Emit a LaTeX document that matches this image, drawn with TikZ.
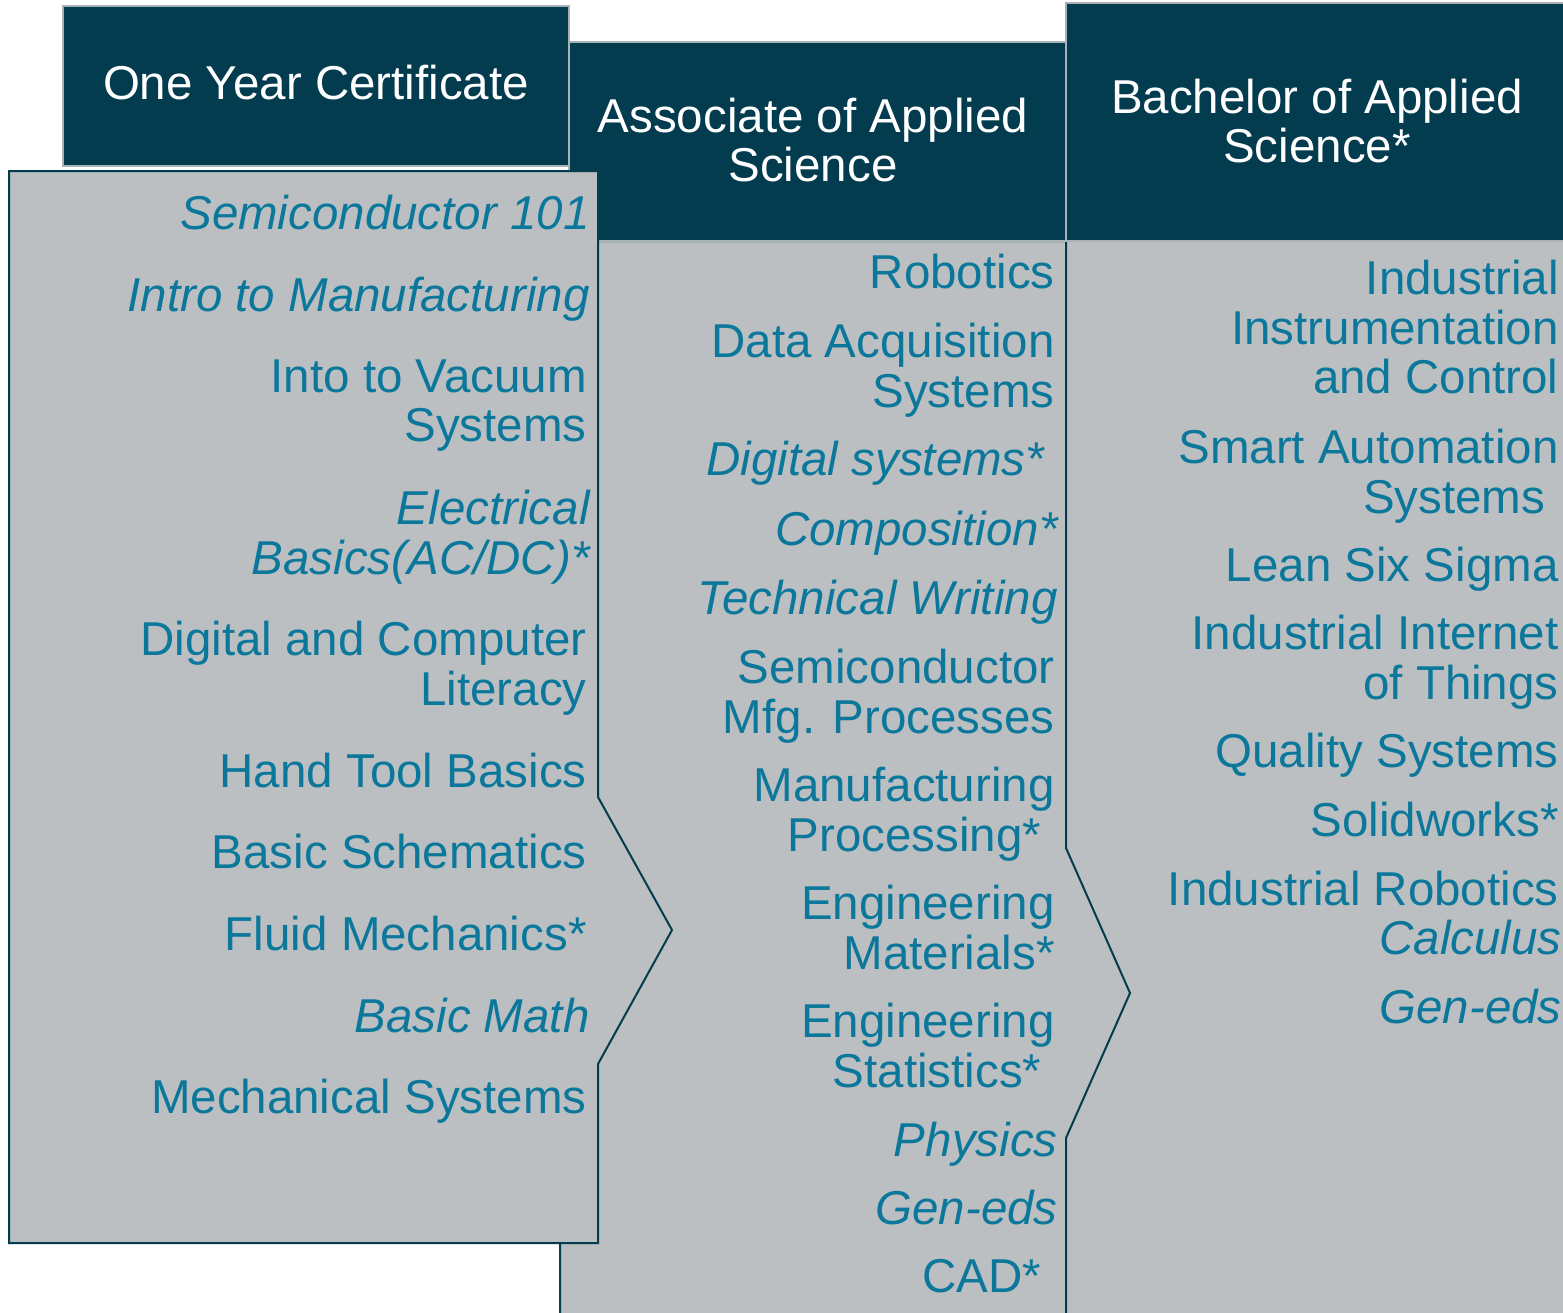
\documentclass[tikz,border=0pt]{standalone}
\usepackage{fontspec}
\setmainfont{Liberation Sans}
\definecolor{hdrblue}{HTML}{033B4F}
\definecolor{panelgray}{HTML}{BBBFC2}
\definecolor{itemblue}{HTML}{0B789B}
\definecolor{hdrline}{HTML}{A9B2B6}
\begin{document}
\begin{tikzpicture}[x=0.5pt,y=-0.5pt,
  hdrbox/.style={draw=hdrline,line width=1.2pt,fill=hdrblue},
  panel/.style={draw=hdrblue,line width=1pt,fill=panelgray,line join=miter},
  hdrtext/.style={text=white,align=center,inner sep=0pt,font=\fontsize{23.75}{24.75}\selectfont},
  itm/.style={anchor=north east,text=itemblue,align=right,inner sep=0pt,font=\fontsize{23.75}{24.75}\selectfont},
  itmi/.style={itm,xshift=2pt,font=\fontsize{23.75}{24.75}\selectfont\itshape}]
\useasboundingbox (0,0) rectangle (1563,1312);
\fill[white] (0,0) rectangle (1563,1312);
\draw[panel] (1066,241)--(1600,241)--(1600,1340)--(1066,1340)--cycle;
\draw[panel] (560,241)--(1066,241)--(1066,848)--(1130,993)--(1066,1138)--(1066,1340)--(560,1340)--cycle;
\draw[hdrbox] (1066,3) rectangle (1600,241);
\draw[hdrbox] (569,42) rectangle (1066,241);
\draw[panel] (9,171)--(598,171)--(598,797)--(672,930)--(598,1064)--(598,1243)--(9,1243)--cycle;
\draw[hdrbox] (63,6) rectangle (569,166);
\node[hdrtext] (cert) at (316,83) {One Year Certificate};
\node[hdrtext] (aas) at (813,140) {Associate of Applied\\Science};
\node[hdrtext] (bas) at (1317,121) {Bachelor of Applied\\Science*};
\node[itmi] (c1a) at (586,195) {Semiconductor 101};
\node[itmi] (c1b) at (586,277) {Intro to Manufacturing};
\node[itm] (c1c) at (587,359) {Into to Vacuum\\Systems};
\node[itmi] (c1d) at (586,490) {Electrical\\Basics(AC/DC)*};
\node[itm] (c1e) at (587,621) {Digital and Computer\\Literacy};
\node[itm] (c1f) at (587,753) {Hand Tool Basics};
\node[itm] (c1g) at (587,834) {Basic Schematics};
\node[itm] (c1h) at (587,916) {Fluid Mechanics*};
\node[itmi] (c1i) at (586,998) {Basic Math};
\node[itm] (c1j) at (587,1079) {Mechanical Systems};
\node[itm] (c2a) at (1055,254) {Robotics};
\node[itm] (c2b) at (1055,323) {Data Acquisition\\Systems};
\node[itmi] (c2c) at (1054,441) {Digital systems*\hspace*{.28em}};
\node[itmi] (c2d) at (1054,511) {Composition*};
\node[itmi] (c2e) at (1054,580) {Technical Writing};
\node[itm] (c2f) at (1055,649) {Semiconductor\\Mfg. Processes};
\node[itm] (c2g) at (1055,767) {Manufacturing\\Processing*\hspace*{.28em}};
\node[itm] (c2h) at (1055,885) {Engineering\\Materials*};
\node[itm] (c2i) at (1055,1003) {Engineering\\Statistics*\hspace*{.28em}};
\node[itmi] (c2j) at (1054,1122) {Physics};
\node[itmi] (c2k) at (1054,1190) {Gen-eds};
\node[itm] (c2l) at (1055,1259) {CAD*\hspace*{.28em}};
\node[itm] (c3a) at (1559,260) {Industrial\\Instrumentation\\and Control};
\node[itm] (c3b) at (1559,429) {Smart Automation\\Systems\hspace*{.28em}};
\node[itm] (c3c) at (1559,547) {Lean Six Sigma};
\node[itm] (c3d) at (1559,615) {Industrial Internet\\of Things};
\node[itm] (c3e) at (1559,733) {Quality Systems};
\node[itm] (c3f) at (1559,802) {Solidworks*};
\node[itm] (c3g) at (1559,871) {Industrial Robotics};
\node[itmi] (c3h) at (1558,920) {Calculus};
\node[itmi] (c3i) at (1558,989) {Gen-eds};
\end{tikzpicture}
\end{document}
